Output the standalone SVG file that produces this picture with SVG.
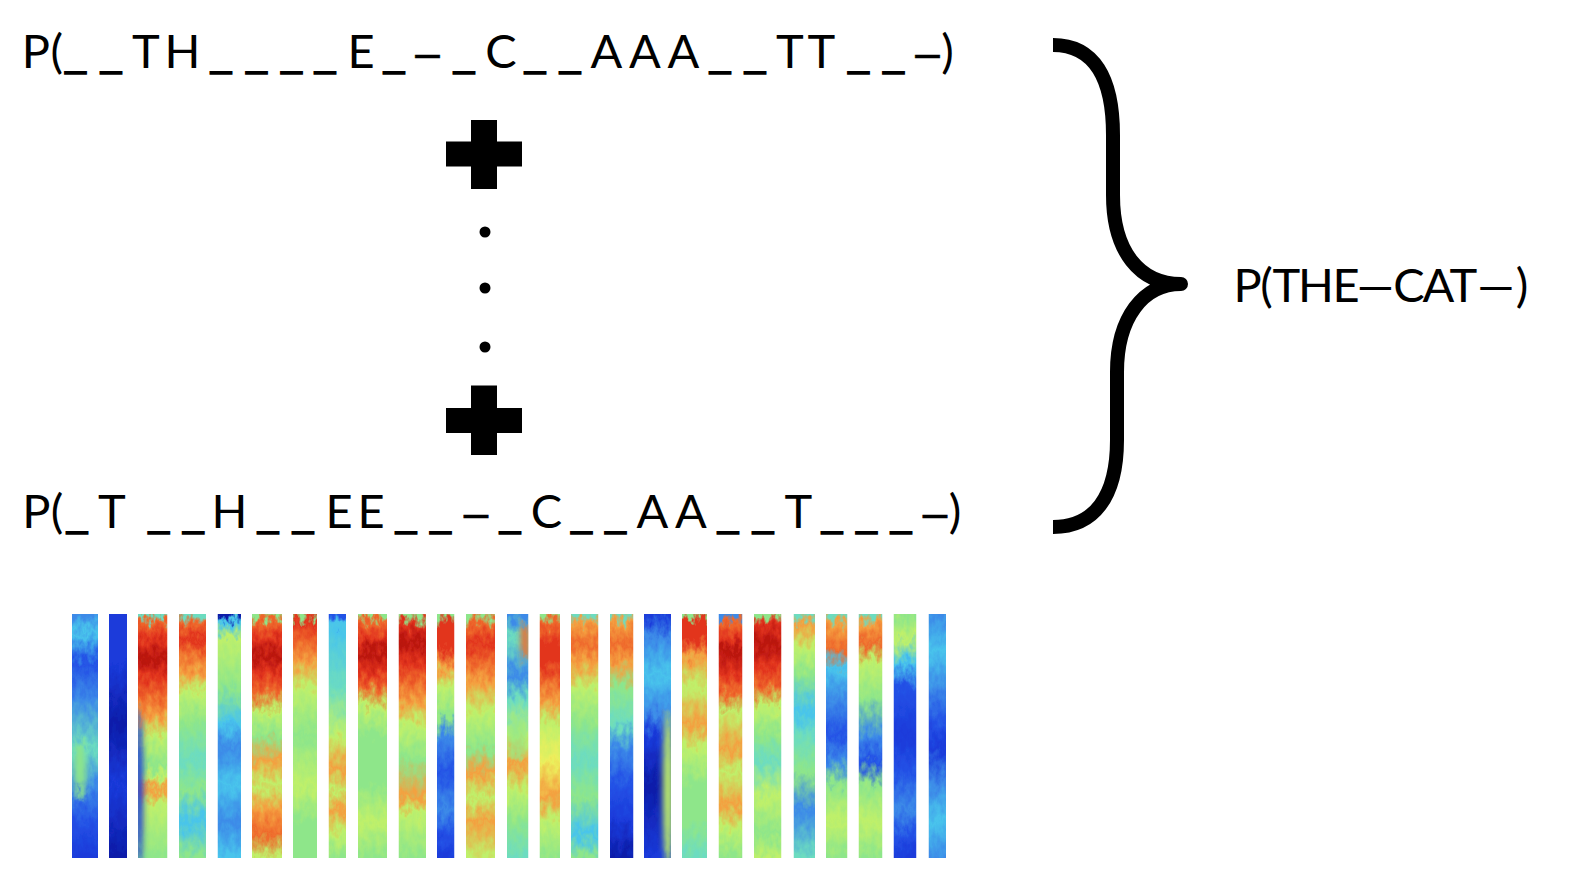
<svg xmlns="http://www.w3.org/2000/svg" width="1584" height="888" viewBox="0 0 1584 888">
<style>
.t{font-family:Lato,"Open Sans","Liberation Sans",sans-serif;font-size:47px;fill:#000;text-anchor:middle}
.u{font-family:"Liberation Sans",Arial,sans-serif;font-size:37px;stroke:#000;stroke-width:1.4;baseline-shift:1px}
.d{font-family:"Liberation Sans",Arial,sans-serif;font-size:44px;stroke:#000;stroke-width:0.6}
.blk{fill:#000}
.brace{fill:none;stroke:#000;stroke-width:14;stroke-linejoin:round;stroke-linecap:butt}
</style>
<defs>
<filter id="mottle" x="0" y="0" width="1" height="1" filterUnits="objectBoundingBox" color-interpolation-filters="sRGB">
<feTurbulence type="fractalNoise" baseFrequency="0.17 0.1" numOctaves="3" seed="7" result="n"/>
<feColorMatrix in="n" type="matrix" values="0 0 0 0 0.5  0 1 0 0 0  0 0 1 0 0  0 0 0 0 1" result="m"/>
<feDisplacementMap in="SourceGraphic" in2="m" scale="30" xChannelSelector="R" yChannelSelector="G" result="d"/>
<feGaussianBlur in="d" stdDeviation="0.7"/>
</filter>
<filter id="soft" x="-0.02" y="-0.02" width="1.04" height="1.04"><feGaussianBlur stdDeviation="0.6"/></filter>
<filter id="blob" x="-1" y="-1" width="3" height="3"><feGaussianBlur stdDeviation="3"/></filter>
<clipPath id="strips">
<rect x="72" y="614" width="26" height="244"/><rect x="109" y="614" width="18" height="244"/><rect x="138" y="614" width="29.5" height="244"/><rect x="179" y="614" width="27" height="244"/><rect x="217.5" y="614" width="23.5" height="244"/><rect x="252" y="614" width="30" height="244"/><rect x="293" y="614" width="24" height="244"/><rect x="328.5" y="614" width="17.5" height="244"/><rect x="358" y="614" width="29" height="244"/><rect x="398.5" y="614" width="27.5" height="244"/><rect x="437" y="614" width="17.5" height="244"/><rect x="466" y="614" width="29" height="244"/><rect x="507" y="614" width="21.5" height="244"/><rect x="539.5" y="614" width="20.5" height="244"/><rect x="571" y="614" width="27.5" height="244"/><rect x="610" y="614" width="23.5" height="244"/><rect x="644" y="614" width="27" height="244"/><rect x="682" y="614" width="25" height="244"/><rect x="718.5" y="614" width="24" height="244"/><rect x="754" y="614" width="27.5" height="244"/><rect x="793.5" y="614" width="21.5" height="244"/><rect x="826" y="614" width="21.5" height="244"/><rect x="858.5" y="614" width="24" height="244"/><rect x="893.5" y="614" width="23" height="244"/><rect x="928.5" y="614" width="17.5" height="244"/>
</clipPath>
<linearGradient id="s1" gradientUnits="userSpaceOnUse" x1="0" y1="614" x2="0" y2="858"><stop offset="0" stop-color="#3c8ae8"/><stop offset=".08" stop-color="#48c4ec"/><stop offset=".2" stop-color="#2452e6"/><stop offset=".35" stop-color="#3c8ae8"/><stop offset=".55" stop-color="#6cdcc0"/><stop offset=".7" stop-color="#3c8ae8"/><stop offset=".85" stop-color="#2452e6"/><stop offset="1" stop-color="#1a3ada"/></linearGradient>
<linearGradient id="s2" gradientUnits="userSpaceOnUse" x1="0" y1="614" x2="0" y2="858"><stop offset="0" stop-color="#1a3ada"/><stop offset=".2" stop-color="#1a3ada"/><stop offset=".45" stop-color="#0c1ca8"/><stop offset=".7" stop-color="#1a3ada"/><stop offset="1" stop-color="#0c1ca8"/></linearGradient>
<linearGradient id="s3" gradientUnits="userSpaceOnUse" x1="0" y1="614" x2="0" y2="858"><stop offset="0" stop-color="#6cdcc0"/><stop offset=".03" stop-color="#ef6a2c"/><stop offset=".1" stop-color="#e2341e"/><stop offset=".18" stop-color="#b8140e"/><stop offset=".26" stop-color="#e2341e"/><stop offset=".34" stop-color="#ef6a2c"/><stop offset=".42" stop-color="#f4a040"/><stop offset=".5" stop-color="#bff06a"/><stop offset=".62" stop-color="#8ee68a"/><stop offset=".67" stop-color="#bff06a"/><stop offset=".72" stop-color="#f4a040"/><stop offset=".78" stop-color="#bff06a"/><stop offset="1" stop-color="#8ee68a"/></linearGradient>
<linearGradient id="s4" gradientUnits="userSpaceOnUse" x1="0" y1="614" x2="0" y2="858"><stop offset="0" stop-color="#6cdcc0"/><stop offset=".04" stop-color="#ef6a2c"/><stop offset=".1" stop-color="#e2341e"/><stop offset=".16" stop-color="#ef6a2c"/><stop offset=".24" stop-color="#f4a040"/><stop offset=".32" stop-color="#bff06a"/><stop offset=".45" stop-color="#8ee68a"/><stop offset=".6" stop-color="#6cdcc0"/><stop offset=".72" stop-color="#8ee68a"/><stop offset=".85" stop-color="#48c4ec"/><stop offset="1" stop-color="#8ee68a"/></linearGradient>
<linearGradient id="s5" gradientUnits="userSpaceOnUse" x1="0" y1="614" x2="0" y2="858"><stop offset="0" stop-color="#0c1ca8"/><stop offset=".03" stop-color="#48c4ec"/><stop offset=".1" stop-color="#bff06a"/><stop offset=".3" stop-color="#8ee68a"/><stop offset=".45" stop-color="#48c4ec"/><stop offset=".55" stop-color="#3c8ae8"/><stop offset=".7" stop-color="#48c4ec"/><stop offset=".85" stop-color="#3c8ae8"/><stop offset="1" stop-color="#48c4ec"/></linearGradient>
<linearGradient id="s6" gradientUnits="userSpaceOnUse" x1="0" y1="614" x2="0" y2="858"><stop offset="0" stop-color="#8ee68a"/><stop offset=".03" stop-color="#ef6a2c"/><stop offset=".1" stop-color="#e2341e"/><stop offset=".17" stop-color="#b8140e"/><stop offset=".24" stop-color="#e2341e"/><stop offset=".32" stop-color="#ef6a2c"/><stop offset=".4" stop-color="#bff06a"/><stop offset=".5" stop-color="#8ee68a"/><stop offset=".6" stop-color="#f4a040"/><stop offset=".7" stop-color="#bff06a"/><stop offset=".8" stop-color="#f4a040"/><stop offset=".9" stop-color="#ef6a2c"/><stop offset="1" stop-color="#bff06a"/></linearGradient>
<linearGradient id="s7" gradientUnits="userSpaceOnUse" x1="0" y1="614" x2="0" y2="858"><stop offset="0" stop-color="#8ee68a"/><stop offset=".03" stop-color="#e2341e"/><stop offset=".12" stop-color="#ef6a2c"/><stop offset=".2" stop-color="#f4a040"/><stop offset=".3" stop-color="#bff06a"/><stop offset=".5" stop-color="#8ee68a"/><stop offset=".7" stop-color="#bff06a"/><stop offset=".85" stop-color="#8ee68a"/><stop offset="1" stop-color="#8ee68a"/></linearGradient>
<linearGradient id="s8" gradientUnits="userSpaceOnUse" x1="0" y1="614" x2="0" y2="858"><stop offset="0" stop-color="#2452e6"/><stop offset=".05" stop-color="#48c4ec"/><stop offset=".3" stop-color="#6cdcc0"/><stop offset=".5" stop-color="#bff06a"/><stop offset=".63" stop-color="#f4a040"/><stop offset=".72" stop-color="#bff06a"/><stop offset=".8" stop-color="#f4a040"/><stop offset=".9" stop-color="#bff06a"/><stop offset="1" stop-color="#8ee68a"/></linearGradient>
<linearGradient id="s9" gradientUnits="userSpaceOnUse" x1="0" y1="614" x2="0" y2="858"><stop offset="0" stop-color="#8ee68a"/><stop offset=".03" stop-color="#ef6a2c"/><stop offset=".1" stop-color="#e2341e"/><stop offset=".16" stop-color="#b8140e"/><stop offset=".24" stop-color="#e2341e"/><stop offset=".3" stop-color="#ef6a2c"/><stop offset=".38" stop-color="#bff06a"/><stop offset=".5" stop-color="#8ee68a"/><stop offset=".7" stop-color="#8ee68a"/><stop offset=".85" stop-color="#bff06a"/><stop offset="1" stop-color="#8ee68a"/></linearGradient>
<linearGradient id="s10" gradientUnits="userSpaceOnUse" x1="0" y1="614" x2="0" y2="858"><stop offset="0" stop-color="#8ee68a"/><stop offset=".04" stop-color="#e2341e"/><stop offset=".12" stop-color="#b8140e"/><stop offset=".2" stop-color="#e2341e"/><stop offset=".28" stop-color="#ef6a2c"/><stop offset=".36" stop-color="#f4a040"/><stop offset=".45" stop-color="#bff06a"/><stop offset=".6" stop-color="#8ee68a"/><stop offset=".75" stop-color="#f4a040"/><stop offset=".82" stop-color="#bff06a"/><stop offset="1" stop-color="#8ee68a"/></linearGradient>
<linearGradient id="s11" gradientUnits="userSpaceOnUse" x1="0" y1="614" x2="0" y2="858"><stop offset="0" stop-color="#8ee68a"/><stop offset=".04" stop-color="#e2341e"/><stop offset=".14" stop-color="#e2341e"/><stop offset=".22" stop-color="#f4a040"/><stop offset=".3" stop-color="#bff06a"/><stop offset=".42" stop-color="#8ee68a"/><stop offset=".5" stop-color="#3c8ae8"/><stop offset=".65" stop-color="#2452e6"/><stop offset=".8" stop-color="#3c8ae8"/><stop offset=".9" stop-color="#2452e6"/><stop offset="1" stop-color="#1a3ada"/></linearGradient>
<linearGradient id="s12" gradientUnits="userSpaceOnUse" x1="0" y1="614" x2="0" y2="858"><stop offset="0" stop-color="#8ee68a"/><stop offset=".04" stop-color="#ef6a2c"/><stop offset=".12" stop-color="#e2341e"/><stop offset=".2" stop-color="#ef6a2c"/><stop offset=".28" stop-color="#f4a040"/><stop offset=".4" stop-color="#bff06a"/><stop offset=".55" stop-color="#8ee68a"/><stop offset=".65" stop-color="#f4a040"/><stop offset=".75" stop-color="#bff06a"/><stop offset=".85" stop-color="#f4a040"/><stop offset="1" stop-color="#bff06a"/></linearGradient>
<linearGradient id="s13" gradientUnits="userSpaceOnUse" x1="0" y1="614" x2="0" y2="858"><stop offset="0" stop-color="#3c8ae8"/><stop offset=".1" stop-color="#6cdcc0"/><stop offset=".25" stop-color="#3c8ae8"/><stop offset=".35" stop-color="#6cdcc0"/><stop offset=".5" stop-color="#bff06a"/><stop offset=".62" stop-color="#f4a040"/><stop offset=".72" stop-color="#bff06a"/><stop offset=".85" stop-color="#8ee68a"/><stop offset="1" stop-color="#6cdcc0"/></linearGradient>
<linearGradient id="s14" gradientUnits="userSpaceOnUse" x1="0" y1="614" x2="0" y2="858"><stop offset="0" stop-color="#8ee68a"/><stop offset=".04" stop-color="#ef6a2c"/><stop offset=".12" stop-color="#e2341e"/><stop offset=".2" stop-color="#e2341e"/><stop offset=".28" stop-color="#ef6a2c"/><stop offset=".36" stop-color="#f4a040"/><stop offset=".45" stop-color="#bff06a"/><stop offset=".6" stop-color="#ecef5c"/><stop offset=".75" stop-color="#f4a040"/><stop offset=".85" stop-color="#bff06a"/><stop offset="1" stop-color="#8ee68a"/></linearGradient>
<linearGradient id="s15" gradientUnits="userSpaceOnUse" x1="0" y1="614" x2="0" y2="858"><stop offset="0" stop-color="#6cdcc0"/><stop offset=".04" stop-color="#f4a040"/><stop offset=".12" stop-color="#ef6a2c"/><stop offset=".2" stop-color="#f4a040"/><stop offset=".3" stop-color="#bff06a"/><stop offset=".45" stop-color="#8ee68a"/><stop offset=".6" stop-color="#6cdcc0"/><stop offset=".75" stop-color="#8ee68a"/><stop offset=".9" stop-color="#48c4ec"/><stop offset="1" stop-color="#8ee68a"/></linearGradient>
<linearGradient id="s16" gradientUnits="userSpaceOnUse" x1="0" y1="614" x2="0" y2="858"><stop offset="0" stop-color="#6cdcc0"/><stop offset=".04" stop-color="#f4a040"/><stop offset=".12" stop-color="#ef6a2c"/><stop offset=".2" stop-color="#f4a040"/><stop offset=".3" stop-color="#8ee68a"/><stop offset=".45" stop-color="#6cdcc0"/><stop offset=".55" stop-color="#3c8ae8"/><stop offset=".7" stop-color="#2452e6"/><stop offset=".85" stop-color="#1a3ada"/><stop offset="1" stop-color="#0c1ca8"/></linearGradient>
<linearGradient id="s17" gradientUnits="userSpaceOnUse" x1="0" y1="614" x2="0" y2="858"><stop offset="0" stop-color="#1a3ada"/><stop offset=".1" stop-color="#3c8ae8"/><stop offset=".25" stop-color="#48c4ec"/><stop offset=".4" stop-color="#3c8ae8"/><stop offset=".5" stop-color="#1a3ada"/><stop offset=".7" stop-color="#0c1ca8"/><stop offset="1" stop-color="#1a3ada"/></linearGradient>
<linearGradient id="s18" gradientUnits="userSpaceOnUse" x1="0" y1="614" x2="0" y2="858"><stop offset="0" stop-color="#8ee68a"/><stop offset=".03" stop-color="#e2341e"/><stop offset=".1" stop-color="#e2341e"/><stop offset=".18" stop-color="#f4a040"/><stop offset=".3" stop-color="#bff06a"/><stop offset=".45" stop-color="#f4a040"/><stop offset=".55" stop-color="#bff06a"/><stop offset=".7" stop-color="#8ee68a"/><stop offset=".85" stop-color="#8ee68a"/><stop offset="1" stop-color="#6cdcc0"/></linearGradient>
<linearGradient id="s19" gradientUnits="userSpaceOnUse" x1="0" y1="614" x2="0" y2="858"><stop offset="0" stop-color="#3c8ae8"/><stop offset=".03" stop-color="#ef6a2c"/><stop offset=".1" stop-color="#e2341e"/><stop offset=".15" stop-color="#b8140e"/><stop offset=".25" stop-color="#e2341e"/><stop offset=".32" stop-color="#ef6a2c"/><stop offset=".4" stop-color="#bff06a"/><stop offset=".55" stop-color="#f4a040"/><stop offset=".65" stop-color="#bff06a"/><stop offset=".78" stop-color="#f4a040"/><stop offset=".88" stop-color="#bff06a"/><stop offset="1" stop-color="#8ee68a"/></linearGradient>
<linearGradient id="s20" gradientUnits="userSpaceOnUse" x1="0" y1="614" x2="0" y2="858"><stop offset="0" stop-color="#8ee68a"/><stop offset=".04" stop-color="#e2341e"/><stop offset=".12" stop-color="#b8140e"/><stop offset=".22" stop-color="#e2341e"/><stop offset=".3" stop-color="#ef6a2c"/><stop offset=".38" stop-color="#bff06a"/><stop offset=".5" stop-color="#8ee68a"/><stop offset=".6" stop-color="#6cdcc0"/><stop offset=".75" stop-color="#bff06a"/><stop offset=".9" stop-color="#8ee68a"/><stop offset="1" stop-color="#bff06a"/></linearGradient>
<linearGradient id="s21" gradientUnits="userSpaceOnUse" x1="0" y1="614" x2="0" y2="858"><stop offset="0" stop-color="#6cdcc0"/><stop offset=".04" stop-color="#f4a040"/><stop offset=".14" stop-color="#bff06a"/><stop offset=".25" stop-color="#8ee68a"/><stop offset=".4" stop-color="#48c4ec"/><stop offset=".5" stop-color="#6cdcc0"/><stop offset=".65" stop-color="#8ee68a"/><stop offset=".8" stop-color="#3c8ae8"/><stop offset="1" stop-color="#6cdcc0"/></linearGradient>
<linearGradient id="s22" gradientUnits="userSpaceOnUse" x1="0" y1="614" x2="0" y2="858"><stop offset="0" stop-color="#6cdcc0"/><stop offset=".04" stop-color="#f4a040"/><stop offset=".14" stop-color="#ef6a2c"/><stop offset=".22" stop-color="#48c4ec"/><stop offset=".35" stop-color="#3c8ae8"/><stop offset=".5" stop-color="#2452e6"/><stop offset=".6" stop-color="#3c8ae8"/><stop offset=".7" stop-color="#8ee68a"/><stop offset=".85" stop-color="#bff06a"/><stop offset="1" stop-color="#8ee68a"/></linearGradient>
<linearGradient id="s23" gradientUnits="userSpaceOnUse" x1="0" y1="614" x2="0" y2="858"><stop offset="0" stop-color="#6cdcc0"/><stop offset=".04" stop-color="#f4a040"/><stop offset=".12" stop-color="#ef6a2c"/><stop offset=".2" stop-color="#bff06a"/><stop offset=".35" stop-color="#8ee68a"/><stop offset=".5" stop-color="#3c8ae8"/><stop offset=".6" stop-color="#2452e6"/><stop offset=".7" stop-color="#8ee68a"/><stop offset=".85" stop-color="#bff06a"/><stop offset="1" stop-color="#8ee68a"/></linearGradient>
<linearGradient id="s24" gradientUnits="userSpaceOnUse" x1="0" y1="614" x2="0" y2="858"><stop offset="0" stop-color="#8ee68a"/><stop offset=".1" stop-color="#bff06a"/><stop offset=".2" stop-color="#48c4ec"/><stop offset=".3" stop-color="#2452e6"/><stop offset=".5" stop-color="#1a3ada"/><stop offset=".65" stop-color="#2452e6"/><stop offset=".8" stop-color="#3c8ae8"/><stop offset=".9" stop-color="#2452e6"/><stop offset="1" stop-color="#1a3ada"/></linearGradient>
<linearGradient id="s25" gradientUnits="userSpaceOnUse" x1="0" y1="614" x2="0" y2="858"><stop offset="0" stop-color="#3c8ae8"/><stop offset=".15" stop-color="#48c4ec"/><stop offset=".3" stop-color="#3c8ae8"/><stop offset=".45" stop-color="#2452e6"/><stop offset=".55" stop-color="#1a3ada"/><stop offset=".7" stop-color="#3c8ae8"/><stop offset=".85" stop-color="#48c4ec"/><stop offset="1" stop-color="#3c8ae8"/></linearGradient>
</defs>
<rect width="1584" height="888" fill="#fff"/>

<g id="line-top">
<text class="t" y="68" x="35.8 56.7 75.5 93 111 128 146 164 182.5 200 221 239 256.5 274 291.5 308 325 343 361 377 394 410 427.5 446 464 482 501 518 535 552 570 588 606.5 626 645 664 683.5 702 720 738 755 772 790 806 821.5 840 858.5 876 893.5 910 927.5 947.5">P(<tspan class="u">_</tspan> <tspan class="u">_</tspan> T H <tspan class="u">_</tspan> <tspan class="u">_</tspan> <tspan class="u">_</tspan> <tspan class="u">_</tspan> E <tspan class="u">_</tspan> <tspan class="d">–</tspan> <tspan class="u">_</tspan> C <tspan class="u">_</tspan> <tspan class="u">_</tspan> A A A <tspan class="u">_</tspan> <tspan class="u">_</tspan> T T <tspan class="u">_</tspan> <tspan class="u">_</tspan> <tspan class="d">–</tspan>)</text>
</g>

<g id="plus-top">
<rect class="blk" x="446" y="141.5" width="76" height="25"/>
<rect class="blk" x="471" y="120" width="26" height="69"/>
</g>

<g id="ellipsis">
<circle class="blk" cx="485" cy="232" r="5.5"/>
<circle class="blk" cx="485" cy="288" r="5.5"/>
<circle class="blk" cx="485" cy="347" r="5.5"/>
</g>

<g id="plus-bottom">
<rect class="blk" x="446" y="408" width="76" height="25"/>
<rect class="blk" x="471" y="385.5" width="26" height="69.5"/>
</g>

<g id="line-bottom">
<text class="t" y="528" x="36.3 57 77 95 112 135 158.7 176 193.3 211 229.5 249 268 285 303 321 339 355 371 388 406 423 440.5 458 476 493 510 528 546.5 564 581.5 598 615.5 634 652.5 672 691 710 728 745 763 780 798.3 815 832 849 866.5 884 901 918 935 955">P(<tspan class="u">_</tspan> T <tspan class="u">_</tspan> <tspan class="u">_</tspan> H <tspan class="u">_</tspan> <tspan class="u">_</tspan> E E <tspan class="u">_</tspan> <tspan class="u">_</tspan> <tspan class="d">–</tspan> <tspan class="u">_</tspan> C <tspan class="u">_</tspan> <tspan class="u">_</tspan> A A <tspan class="u">_</tspan> <tspan class="u">_</tspan> T <tspan class="u">_</tspan> <tspan class="u">_</tspan> <tspan class="u">_</tspan> <tspan class="d">–</tspan>)</text>
</g>

<g id="connectors">
<path class="brace" d="M1053 45 C1094 45 1113 78 1113 135 L1113 195 C1113 252 1140 284 1181 284 C1143 284 1117 318 1117 372 L1117 440 C1117 497 1094 527 1053 527"/>
</g>

<g id="result">
<text class="t" y="301.5" x="1247.5 1266.5 1286.5 1316 1346 1375.5 1409 1438.3 1463.3 1496 1522">P(THE—CAT—)</text>
</g>

<g id="spectrogram" filter="url(#soft)">
<g clip-path="url(#strips)">
<g filter="url(#mottle)">
<rect x="72" y="596" width="26" height="280" fill="url(#s1)"/>
<rect x="109" y="596" width="18" height="280" fill="url(#s2)"/>
<rect x="138" y="596" width="29.5" height="280" fill="url(#s3)"/>
<rect x="179" y="596" width="27" height="280" fill="url(#s4)"/>
<rect x="217.5" y="596" width="23.5" height="280" fill="url(#s5)"/>
<rect x="252" y="596" width="30" height="280" fill="url(#s6)"/>
<rect x="293" y="596" width="24" height="280" fill="url(#s7)"/>
<rect x="328.5" y="596" width="17.5" height="280" fill="url(#s8)"/>
<rect x="358" y="596" width="29" height="280" fill="url(#s9)"/>
<rect x="398.5" y="596" width="27.5" height="280" fill="url(#s10)"/>
<rect x="437" y="596" width="17.5" height="280" fill="url(#s11)"/>
<rect x="466" y="596" width="29" height="280" fill="url(#s12)"/>
<rect x="507" y="596" width="21.5" height="280" fill="url(#s13)"/>
<rect x="539.5" y="596" width="20.5" height="280" fill="url(#s14)"/>
<rect x="571" y="596" width="27.5" height="280" fill="url(#s15)"/>
<rect x="610" y="596" width="23.5" height="280" fill="url(#s16)"/>
<rect x="644" y="596" width="27" height="280" fill="url(#s17)"/>
<rect x="682" y="596" width="25" height="280" fill="url(#s18)"/>
<rect x="718.5" y="596" width="24" height="280" fill="url(#s19)"/>
<rect x="754" y="596" width="27.5" height="280" fill="url(#s20)"/>
<rect x="793.5" y="596" width="21.5" height="280" fill="url(#s21)"/>
<rect x="826" y="596" width="21.5" height="280" fill="url(#s22)"/>
<rect x="858.5" y="596" width="24" height="280" fill="url(#s23)"/>
<rect x="893.5" y="596" width="23" height="280" fill="url(#s24)"/>
<rect x="928.5" y="596" width="17.5" height="280" fill="url(#s25)"/>
<g filter="url(#blob)">
<ellipse cx="139" cy="790" rx="4" ry="80" fill="#1a3ada"/>
<ellipse cx="668" cy="790" rx="5" ry="80" fill="#bff06a"/>
<ellipse cx="80" cy="770" rx="6" ry="30" fill="#8ee68a"/>
<ellipse cx="525" cy="640" rx="4" ry="18" fill="#ef6a2c"/>
<ellipse cx="517" cy="740" rx="10" ry="20" fill="#8ee68a" opacity=".6"/>
</g>
</g>
</g>
</g>
</svg>
